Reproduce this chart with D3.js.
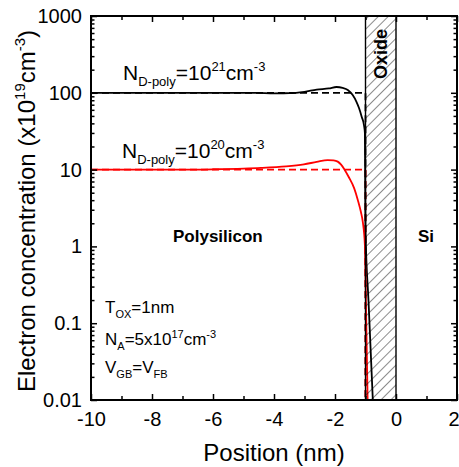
<!DOCTYPE html>
<html>
<head>
<meta charset="utf-8">
<script src="https://cdn.jsdelivr.net/npm/d3@7"></script>
<style>
  body { margin: 0; background: #fff; }
  text { font-family: "Liberation Sans", Arial, sans-serif; fill: #000; }
</style>
</head>
<body>
<script>
// tick values / labels
const xTicks = [-10, -8, -6, -4, -2, 0, 2]
const xTickLabels = ["-10", "-8", "-6", "-4", "-2", "0", "2"]
const xMinor = [-9, -7, -5, -3, -1, 1]
const yTicks = [0.01, 0.1, 1, 10, 100, 1000]
const yTickLabels = ["0.01", "0.1", "1", "10", "100", "1000"]

// quantum (solid) curves
const posHigh = [-10, -6, -4.6, -4.0, -3.5, -3.0, -2.6, -2.2, -1.95, -1.75, -1.58, -1.42, -1.3, -1.21, -1.12, -1.05, -1.02, -1.01, -1.0, -0.9, -0.76]
const concHigh = [100, 100, 100, 98.5, 98.8, 103, 110, 114, 119, 116, 109, 93.5, 77, 63, 48, 38, 30, 8, 1.6, 0.19, 0.01]
const posLow = [-10, -7, -6, -5, -4.43, -3.6, -3.02, -2.6, -2.24, -2.05, -1.91, -1.8, -1.7, -1.55, -1.37, -1.25, -1.15, -1.09, -1.02, -0.975, -0.93]
const concLow = [10, 10, 10.1, 10.3, 10.5, 11.0, 11.7, 12.6, 13.3, 13.2, 12.7, 11.6, 10.2, 8.0, 5.7, 4.0, 2.8, 2.1, 1.04, 0.1, 0.01]

// classical (dashed) curves
const posClassic = [-10, -1, -1]
const concClassicHigh = [100, 100, 0.01]
const concClassicLow = [10, 10, 0.01]

// oxide layer
const oxide = [-1, 0]

var margin = {top: 16, right: 2, bottom: 67, left: 91}
  , W = 459, H = 467
  , width = W - margin.left - margin.right
  , height = H - margin.top - margin.bottom

var xScale = d3.scaleLinear().domain([-10, 2]).range([0, width])
var yScale = d3.scaleLog().domain([0.01, 1000]).range([height, 0])

var yMinor = []
for (let d = 0.01; d < 1000; d *= 10) {
    for (let k = 2; k <= 9; k++) yMinor.push(+(k * d).toPrecision(3))
}

var root = d3.select("body").append("svg")
    .attr("width", W)
    .attr("height", H)

var defs = root.append("defs")
var pat = defs.append("pattern")
    .attr("id", "hatch")
    .attr("patternUnits", "userSpaceOnUse")
    .attr("width", 7)
    .attr("height", 7)
    .attr("patternTransform", "rotate(45)")
pat.append("line")
    .attr("x1", 0).attr("y1", 0).attr("x2", 0).attr("y2", 7)
    .attr("stroke", "#000").attr("stroke-width", 0.9)

defs.append("clipPath").attr("id", "clip")
    .append("rect").attr("width", width).attr("height", height)

var svg = root.append("g")
    .attr("transform", "translate(" + margin.left + "," + margin.top + ")")

// curves
var plot = svg.append("g").attr("clip-path", "url(#clip)")

function series(xs, ys) { return xs.map((x, i) => ({x: x, y: ys[i]})) }

var lineSmooth = d3.line()
    .x(d => xScale(d.x))
    .y(d => yScale(d.y))
    .curve(d3.curveMonotoneX)
var lineStraight = d3.line()
    .x(d => xScale(d.x))
    .y(d => yScale(d.y))

plot.append("path").datum(series(posClassic, concClassicHigh))
    .attr("d", lineStraight).attr("fill", "none")
    .attr("stroke", "#000").attr("stroke-width", 1.8).attr("stroke-dasharray", "7,4")
plot.append("path").datum(series(posClassic, concClassicLow))
    .attr("d", lineStraight).attr("fill", "none")
    .attr("stroke", "#ff0000").attr("stroke-width", 1.8).attr("stroke-dasharray", "7,4")

plot.append("path").datum(series(posHigh, concHigh))
    .attr("d", lineSmooth).attr("fill", "none")
    .attr("stroke", "#000").attr("stroke-width", 1.8)
plot.append("path").datum(series(posLow, concLow))
    .attr("d", lineSmooth).attr("fill", "none")
    .attr("stroke", "#ff0000").attr("stroke-width", 1.8)

// oxide hatch on top
svg.append("rect")
    .attr("x", xScale(oxide[0]))
    .attr("y", 0)
    .attr("width", xScale(oxide[1]) - xScale(oxide[0]))
    .attr("height", height)
    .attr("fill", "url(#hatch)")
    .attr("stroke", "#000")
    .attr("stroke-width", 1.4)

svg.append("text")
    .attr("transform", "translate(" + (xScale(-0.5) + 6.5) + ",38) rotate(-90)")
    .attr("text-anchor", "middle")
    .attr("font-weight", "bold")
    .attr("font-size", "18px")
    .text("Oxide")

// axes, ticks pointing inward
function styleAxis(g) {
    g.select(".domain").remove()
    g.selectAll(".tick line").attr("stroke", "#000").attr("stroke-width", 1.5)
    g.selectAll(".tick text").attr("font-size", "20px").attr("font-family", null).attr("fill", "#000")
}

var xAxis = svg.append("g")
    .attr("transform", "translate(0," + height + ")")
    .call(d3.axisBottom(xScale).tickValues(xTicks).tickSize(-6).tickPadding(12)
        .tickFormat((d, i) => xTickLabels[i]))
    .call(styleAxis)
// last label sits at the window edge: keep it inside
xAxis.selectAll(".tick text").filter(d => d == 2).attr("text-anchor", "end").attr("x", 2)

svg.append("g")
    .attr("transform", "translate(0," + height + ")")
    .call(d3.axisBottom(xScale).tickValues(xMinor).tickSize(-4).tickFormat(""))
    .call(styleAxis)
svg.append("g")
    .call(d3.axisTop(xScale).tickValues(xTicks).tickSize(-6).tickFormat(""))
    .call(styleAxis)
svg.append("g")
    .call(d3.axisTop(xScale).tickValues(xMinor).tickSize(-4).tickFormat(""))
    .call(styleAxis)

svg.append("g")
    .call(d3.axisLeft(yScale).tickValues(yTicks).tickSize(-6).tickPadding(9)
        .tickFormat((d, i) => yTickLabels[i]))
    .call(styleAxis)
svg.append("g")
    .call(d3.axisLeft(yScale).tickValues(yMinor).tickSize(-3.5).tickFormat(""))
    .call(styleAxis)
svg.append("g")
    .attr("transform", "translate(" + width + ",0)")
    .call(d3.axisRight(yScale).tickValues(yTicks).tickSize(-6).tickFormat(""))
    .call(styleAxis)
svg.append("g")
    .attr("transform", "translate(" + width + ",0)")
    .call(d3.axisRight(yScale).tickValues(yMinor).tickSize(-3.5).tickFormat(""))
    .call(styleAxis)

svg.append("rect")
    .attr("width", width).attr("height", height)
    .attr("fill", "none").attr("stroke", "#000").attr("stroke-width", 2)

// text with sub/superscripts: parts = [[text, 'n'|'sub'|'sup'], ...]
function richText(g, x, y, size, small, shift, parts) {
    var t = g.append("text").attr("x", x).attr("y", y).attr("font-size", size + "px")
    var cur = 0
    parts.forEach(function(p) {
        var target = p[1] == "sub" ? shift.sub : p[1] == "sup" ? -shift.sup : 0
        t.append("tspan")
            .attr("dy", target - cur)
            .attr("font-size", (p[1] == "n" ? size : small) + "px")
            .text(p[0])
        cur = target
    })
    return t
}

richText(root, 123, 80, 21, 13, {sub: 6, sup: 9},
    [["N", "n"], ["D-poly", "sub"], ["=10", "n"], ["21", "sup"], ["cm", "n"], ["-3", "sup"]])
richText(root, 122, 158, 21, 13, {sub: 6, sup: 9},
    [["N", "n"], ["D-poly", "sub"], ["=10", "n"], ["20", "sup"], ["cm", "n"], ["-3", "sup"]])

richText(root, 105, 313, 17, 11, {sub: 5, sup: 7}, [["T", "n"], ["OX", "sub"], ["=1nm", "n"]])
richText(root, 105, 345, 17, 11, {sub: 5, sup: 7},
    [["N", "n"], ["A", "sub"], ["=5x10", "n"], ["17", "sup"], ["cm", "n"], ["-3", "sup"]])
richText(root, 105, 373, 17, 11, {sub: 5, sup: 7}, [["V", "n"], ["GB", "sub"], ["=V", "n"], ["FB", "sub"]])

root.append("text").attr("x", 173).attr("y", 242)
    .attr("font-size", "17px").attr("font-weight", "bold").text("Polysilicon")
root.append("text").attr("x", 418).attr("y", 242)
    .attr("font-size", "17px").attr("font-weight", "bold").text("Si")

// axis titles
root.append("text")
    .attr("x", margin.left + width / 2)
    .attr("y", 461)
    .attr("text-anchor", "middle")
    .attr("font-size", "24px")
    .text("Position (nm)")

var yt = root.append("text")
    .attr("transform", "translate(35," + (margin.top + height / 2 + 3) + ") rotate(-90)")
    .attr("text-anchor", "middle")
    .attr("font-size", "24px")
yt.append("tspan").text("Electron concentration (x10")
yt.append("tspan").attr("dy", -10).attr("font-size", "15px").text("19")
yt.append("tspan").attr("dy", 10).text("cm")
yt.append("tspan").attr("dy", -10).attr("font-size", "15px").text("-3")
yt.append("tspan").attr("dy", 10).text(")")
</script>
</body>
</html>
